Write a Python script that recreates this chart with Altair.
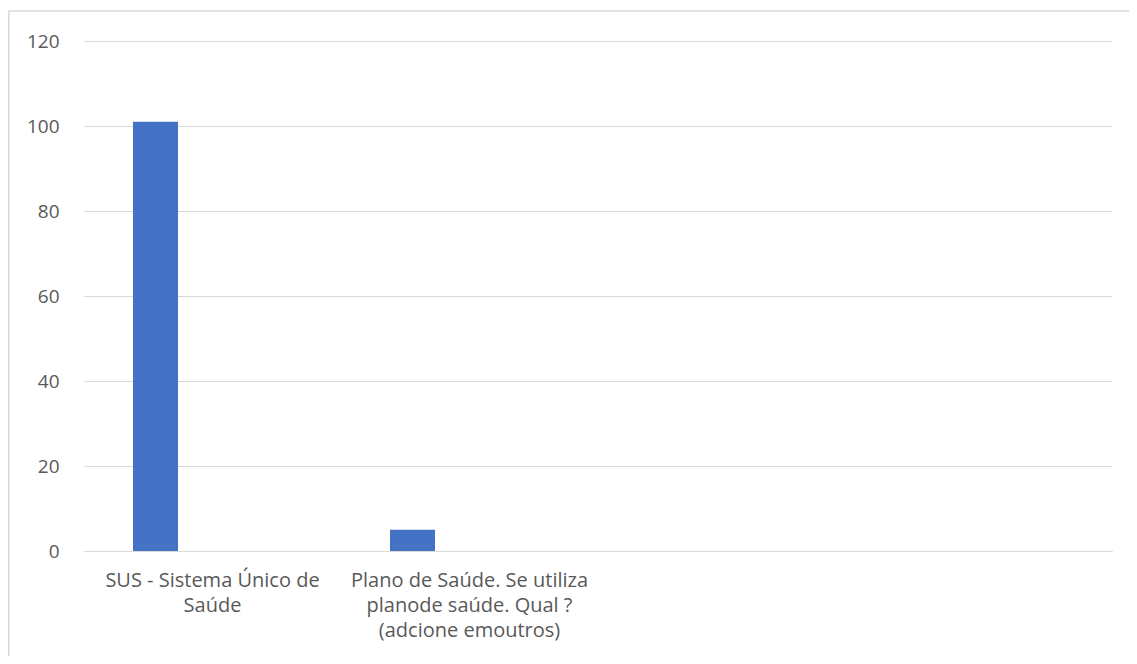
import altair as alt
import pandas as pd

categories = [
    "SUS - Sistema Único de Saúde",
    "Plano de Saúde. Se utiliza planode saúde. Qual ? (adcione emoutros)",
    "cat3",
    "cat4",
]
label_lines = [
    ["SUS - Sistema Único de", "Saúde"],
    ["Plano de Saúde. Se utiliza", "planode saúde. Qual ?", "(adcione emoutros)"],
    [""],
    [""],
]
values = [101, 5]
y_ticks = [0, 20, 40, 60, 80, 100, 120]

df = pd.DataFrame({"categoria": categories[:2], "valor": values})

# build label expression
def js_arr(lines):
    return "[" + ", ".join("'" + l.replace("'", "\\'") + "'" for l in lines) + "]"

expr = "''"
for cat, lines in reversed(list(zip(categories, label_lines))):
    expr = f"datum.value === '{cat}' ? {js_arr(lines)} : ({expr})"

FONT = "Open Sans"
TXT = "#595959"
GRID = "#d9d9d9"

W, H = 1028, 510

bars = alt.Chart(df).mark_bar(width=45, xOffset=-57, color="#4472C4").encode(
    x=alt.X(
        "categoria:N",
        sort=categories,
        scale=alt.Scale(domain=categories, paddingInner=0, paddingOuter=0),
        axis=alt.Axis(
            title=None,
            labelAngle=0,
            labelExpr=expr,
            labelFont=FONT,
            labelFontSize=20,
            labelColor=TXT,
            labelPadding=19,
            labelLineHeight=25,
            labelLimit=400,
            labelBaseline="top",
            ticks=False,
            domain=True,
            domainColor=GRID,
            domainWidth=1,
        ),
    ),
    y=alt.Y(
        "valor:Q",
        scale=alt.Scale(domain=[0, 120]),
        axis=alt.Axis(
            title=None,
            values=y_ticks,
            labelFont=FONT,
            labelFontSize=19,
            labelColor=TXT,
            labelPadding=25,
            ticks=False,
            domain=False,
            gridColor=GRID,
            gridWidth=1,
        ),
    ),
)

frame = alt.Chart(alt.Data(values=[{}])).mark_rect(
    fill="white", fillOpacity=0, stroke=GRID, strokeWidth=1.5
).encode(
    x=alt.value(-75.2), x2=alt.value(1200), y=alt.value(-30), y2=alt.value(800)
)

chart = alt.layer(frame, bars).properties(
    width=W,
    height=H,
    autosize="none",
    padding={"left": 76, "top": 33, "right": 17, "bottom": 105},
    background="white",
).configure_view(stroke=None)

chart.save("out.html", embed_options={"renderer": "svg", "actions": False})
